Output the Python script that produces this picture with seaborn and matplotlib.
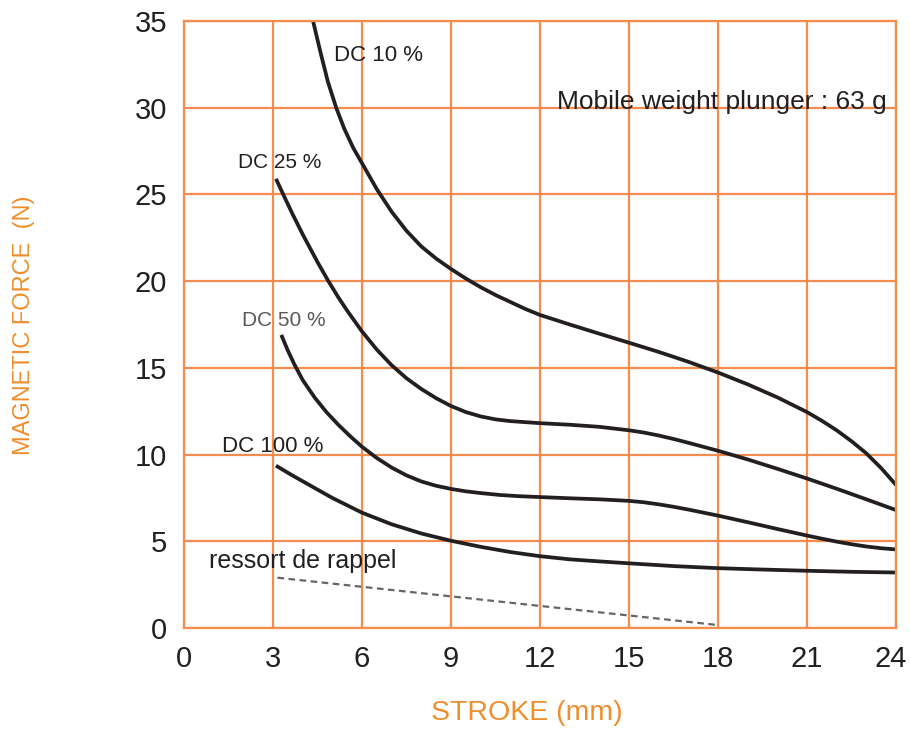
import numpy as np
import pandas as pd
import matplotlib
matplotlib.use("Agg")
import matplotlib.pyplot as plt
import matplotlib.transforms as mtransforms
import seaborn as sns

# ---- data ----
dc10_x = [4.35, 4.6, 4.85, 5.13, 5.4, 5.7, 6.0, 6.5, 7.0, 7.5, 8.0, 8.5, 9.0, 9.5, 10.0, 10.5,
          11.0, 11.5, 12.0, 13.0, 14.0, 15.0, 16.0, 17.0, 18.0, 19.0, 20.0, 21.0, 21.5, 22.0,
          22.5, 23.0, 23.5, 24.0]
dc10_y = [35.0, 33.2, 31.5, 30.0, 28.8, 27.7, 26.8, 25.3, 24.0, 22.9, 22.0, 21.3, 20.7, 20.15,
          19.65, 19.2, 18.8, 18.4, 18.05, 17.5, 16.97, 16.45, 15.92, 15.35, 14.73, 14.05, 13.3,
          12.45, 11.95, 11.4, 10.77, 10.07, 9.22, 8.25]

dc25_x = [3.1, 3.4, 3.67, 4.0, 4.5, 4.85, 5.2, 5.5, 6.0, 6.5, 7.0, 7.5, 8.0, 8.5, 9.0, 9.5,
          10.0, 10.5, 11.0, 12.0, 13.0, 14.0, 15.0, 15.5, 16.0, 16.5, 17.0, 18.0, 19.0, 20.0,
          21.0, 22.0, 23.0, 24.0]
dc25_y = [25.9, 24.8, 23.83, 22.7, 21.1, 20.05, 19.07, 18.3, 17.1, 16.05, 15.15, 14.4, 13.78,
          13.25, 12.8, 12.45, 12.2, 12.03, 11.93, 11.81, 11.72, 11.6, 11.4, 11.27, 11.1, 10.9,
          10.68, 10.22, 9.72, 9.18, 8.62, 8.03, 7.42, 6.8]

dc50_x = [3.28, 3.5, 3.72, 4.0, 4.4, 4.8, 5.2, 5.6, 6.0, 6.5, 7.0, 7.5, 8.0, 8.5, 9.0, 9.5,
          10.0, 10.65, 11.3, 12.0, 13.0, 14.0, 15.0, 15.5, 16.0, 16.5, 17.0, 18.0, 19.0, 20.0,
          21.0, 21.5, 22.0, 22.5, 23.0, 23.5, 24.0]
dc50_y = [16.9, 16.0, 15.2, 14.3, 13.3, 12.45, 11.72, 11.06, 10.45, 9.8, 9.25, 8.8, 8.45, 8.2,
          8.02, 7.88, 7.78, 7.67, 7.6, 7.55, 7.48, 7.42, 7.33, 7.25, 7.13, 6.99, 6.83, 6.48, 6.1,
          5.71, 5.33, 5.15, 4.98, 4.83, 4.7, 4.6, 4.53]

dc100_x = [3.1, 3.6, 4.2, 5.0, 6.0, 7.0, 8.0, 9.0, 10.0, 11.0, 12.0, 13.0, 14.0, 15.0, 16.5,
           18.0, 19.5, 21.0, 22.5, 24.0]
dc100_y = [9.36, 8.85, 8.27, 7.5, 6.65, 5.98, 5.45, 5.03, 4.68, 4.38, 4.14, 3.96, 3.84, 3.73,
           3.57, 3.45, 3.37, 3.3, 3.24, 3.2]

spring_x = [3.15, 18.0]
spring_y = [2.9, 0.17]

curve_names = ["DC 10 %", "DC 25 %", "DC 50 %", "DC 100 %"]
x_ticks = [0, 3, 6, 9, 12, 15, 18, 21, 24]
y_ticks = [0, 5, 10, 15, 20, 25, 30, 35]

# ---- styling ----
sns.set_theme(style="white")
plt.rcParams["font.family"] = ["Liberation Sans", "DejaVu Sans"]

GRID = "#F58B4C"
LABEL_ORANGE = "#EF8E2C"
INK = "#231F20"

frames = []
for name, xs, ys in zip(curve_names, [dc10_x, dc25_x, dc50_x, dc100_x],
                        [dc10_y, dc25_y, dc50_y, dc100_y]):
    frames.append(pd.DataFrame({"stroke": xs, "force": ys, "curve": name}))
df = pd.concat(frames, ignore_index=True)
spring_df = pd.DataFrame({"stroke": spring_x, "force": spring_y})

fig = plt.figure(figsize=(9.10, 7.31), dpi=100)
ax = fig.add_axes([184 / 910, 1 - 628 / 731, 712 / 910, 607 / 731])

sns.lineplot(data=df, x="stroke", y="force", units="curve", estimator=None,
             color=INK, lw=2.7, ax=ax, legend=False, sort=True,
             solid_joinstyle="round", solid_capstyle="butt")
sns.lineplot(data=spring_df, x="stroke", y="force", color="#666666", lw=1.6,
             linestyle=(0, (3, 2)), ax=ax, legend=False)

ax.set_xlim(0, 24)
ax.set_ylim(0, 35)
ax.set_xticks(x_ticks)
ax.set_yticks(y_ticks)
ax.grid(True, color=GRID, lw=1.6)
ax.set_axisbelow(True)
for s in ax.spines.values():
    s.set_visible(True)
    s.set_color(GRID)
    s.set_linewidth(1.6)
ax.tick_params(axis="both", length=7, width=1.6, color=GRID,
               labelsize=21, labelcolor=INK, pad=5)

# nudge the last x tick label slightly left so it stays inside the canvas
last_lbl = ax.get_xticklabels()[-1]
last_lbl.set_transform(last_lbl.get_transform() +
                       mtransforms.ScaledTranslation(-5 / 100, 0, fig.dpi_scale_trans))

ax.set_xlabel("STROKE (mm)", fontsize=20.5, color=LABEL_ORANGE)
ax.set_ylabel("MAGNETIC FORCE  (N)", fontsize=17, color=LABEL_ORANGE)
ax.xaxis.label.set_verticalalignment("center")
ax.yaxis.label.set_verticalalignment("center")
ax.xaxis.set_label_coords((527 - 184) / 712, (628 - 713) / 607)
ax.yaxis.set_label_coords((24 - 184) / 712, (628 - 325.5) / 607)

# annotations
ax.text(6.56, 32.7, "DC 10 %", fontsize=16, color=INK, ha="center", va="baseline")
ax.text(3.24, 26.53, "DC 25 %", fontsize=15, color=INK, ha="center", va="baseline")
ax.text(3.35, 17.42, "DC 50 %", fontsize=15, color="#58595B", ha="center", va="baseline")
ax.text(2.98, 10.15, "DC 100 %", fontsize=16, color=INK, ha="center", va="baseline")
ax.text(3.99, 3.46, "ressort de rappel", fontsize=18, color=INK, ha="center", va="baseline")
ax.text(23.69, 29.93, "Mobile weight plunger : 63 g", fontsize=19, color=INK,
        ha="right", va="baseline")

fig.savefig("out.png", dpi=100)
